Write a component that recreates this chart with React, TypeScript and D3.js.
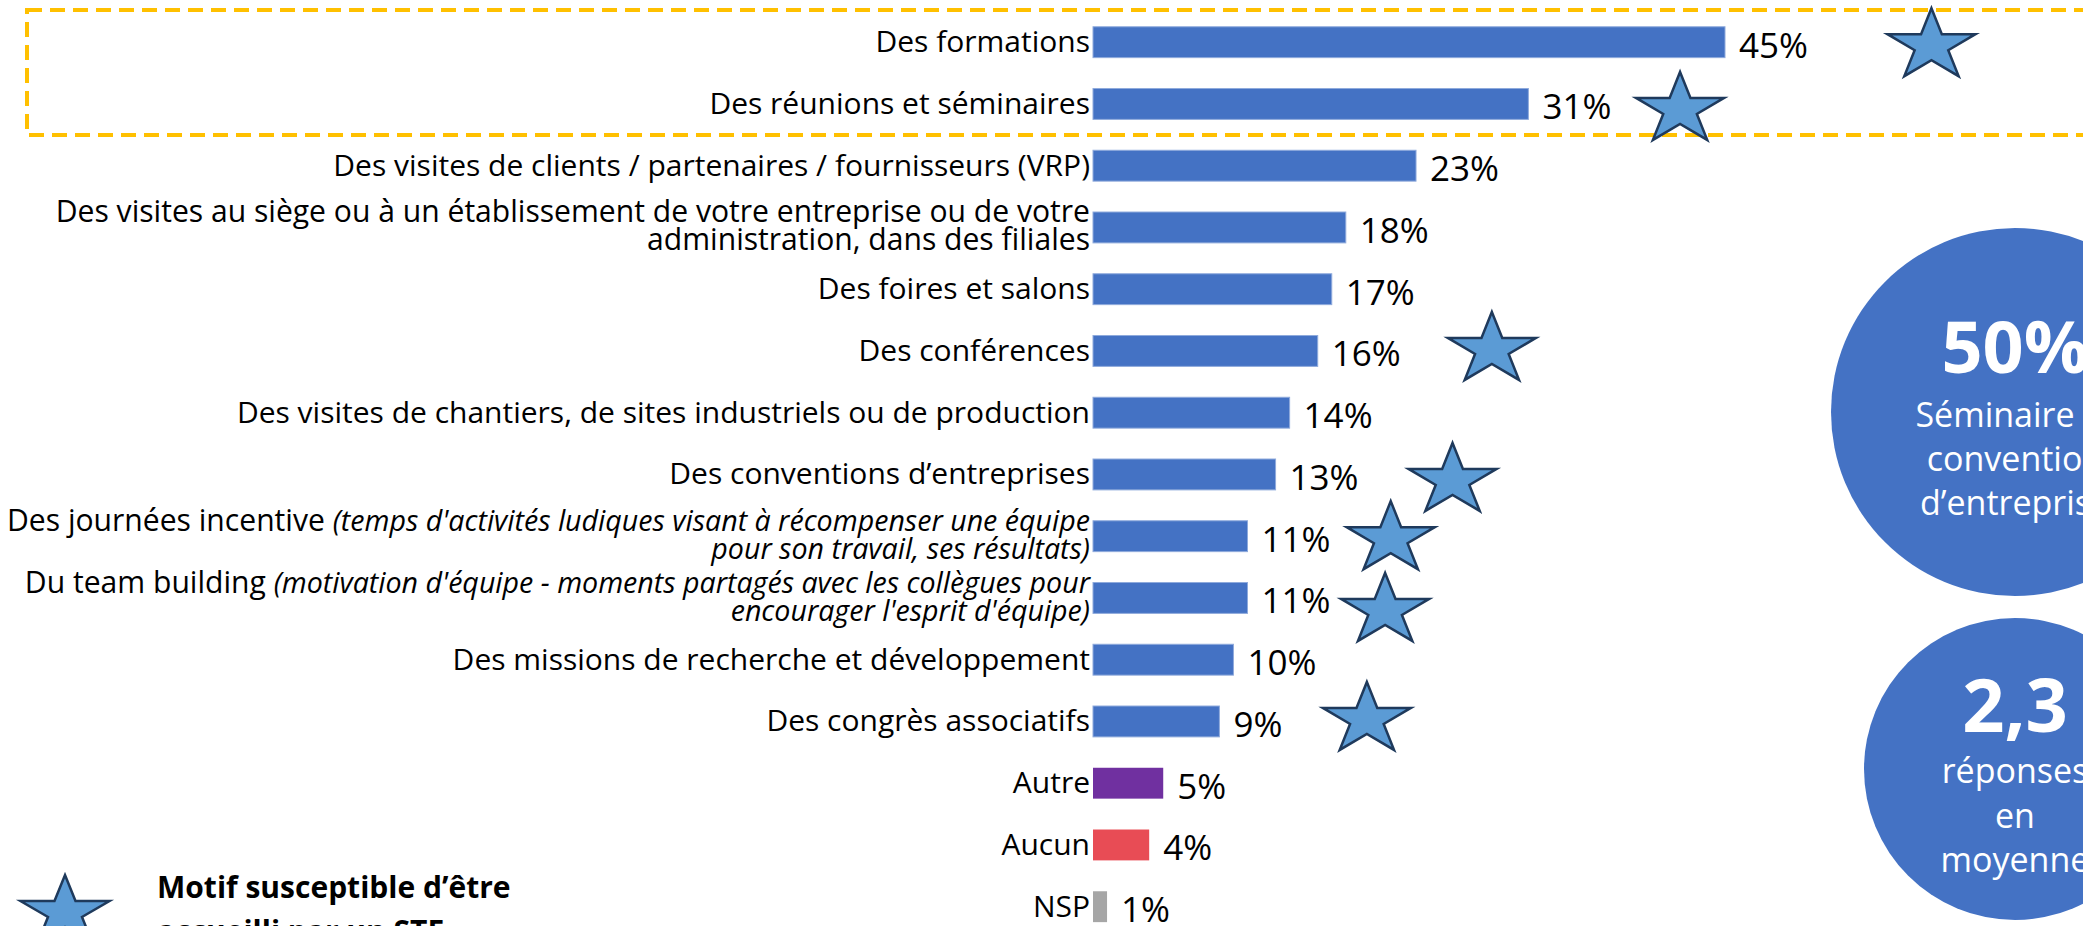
import React, { useEffect } from "react";
import * as d3 from "d3";

// ---------- DATA ----------
const categories = [
  "Des formations",
  "Des réunions et séminaires",
  "Des visites de clients / partenaires / fournisseurs (VRP)",
  "Des visites au siège ou à un établissement de votre entreprise ou de votre administration, dans des filiales",
  "Des foires et salons",
  "Des conférences",
  "Des visites de chantiers, de sites industriels ou de production",
  "Des conventions d’entreprises",
  "Des journées incentive",
  "Du team building",
  "Des missions de recherche et développement",
  "Des congrès associatifs",
  "Autre",
  "Aucun",
  "NSP",
];
const values = [45, 31, 23, 18, 17, 16, 14, 13, 11, 11, 10, 9, 5, 4, 1];

// label text split into lines of [text, italic] segments
const labelLines: Record<string, [string, boolean][][]> = {
  "Des visites au siège ou à un établissement de votre entreprise ou de votre administration, dans des filiales": [
    [["Des visites au siège ou à un établissement de votre entreprise ou de votre", false]],
    [["administration, dans des filiales", false]],
  ],
  "Des journées incentive": [
    [["Des journées incentive ", false], ["(temps d'activités ludiques visant à récompenser une équipe", true]],
    [["pour son travail, ses résultats)", true]],
  ],
  "Du team building": [
    [["Du team building ", false], ["(motivation d'équipe - moments partagés avec les collègues pour", true]],
    [["encourager l'esprit d'équipe)", true]],
  ],
};

// categories marked with a star, with the star's position in value units
const starredCategories = [
  "Des formations",
  "Des réunions et séminaires",
  "Des conférences",
  "Des conventions d’entreprises",
  "Des journées incentive",
  "Du team building",
  "Des congrès associatifs",
];
const starValuePos = [59.7, 41.8, 28.4, 25.6, 21.2, 20.8, 19.5];
const starDy = [0, 2, -5, 2.5, -1, 9, -5.5];

const kpi1Value = "50%";
const kpi1Lines = ["Séminaire et", "convention", "d’entreprise"];
const kpi2Value = "2,3";
const kpi2Lines = ["réponses", "en", "moyenne"];
const legendLines = ["Motif susceptible d’être", "accueilli par un STE"];

// ---------- STYLE ----------
const W = 2083;
const H = 926;
const FONT = "'Open Sans', 'Noto Sans', sans-serif";
const BLUE = "#4472C4";
const specialColors: Record<string, string> = {
  Autre: "#7030A0",
  Aucun: "#E84C55",
  NSP: "#A6A6A6",
};
const STAR_FILL = "#5B9BD5";
const STAR_STROKE = "#1F3A5C";

function starPoints(cx: number, cy: number, w: number, h: number): [number, number][] {
  const sx = w / (2 * Math.sin((72 * Math.PI) / 180));
  const sy = h / (1 + Math.cos((36 * Math.PI) / 180));
  const ccy = cy + sy * (1 - (1 + Math.cos((36 * Math.PI) / 180)) / 2);
  const inner = 0.382;
  const pts: [number, number][] = [];
  for (let k = 0; k < 10; k++) {
    const a = -Math.PI / 2 + (k * Math.PI) / 5;
    const r = k % 2 === 0 ? 1 : inner;
    pts.push([cx + Math.cos(a) * r * sx, ccy + Math.sin(a) * r * sy]);
  }
  return pts;
}

export default function App() {
  useEffect(() => {
    document.body.style.margin = "0";
    document.body.style.overflow = "hidden";
  }, []);

  const x = d3.scaleLinear().domain([0, 45]).range([1093, 1725]);
  const step = 61.75;
  const firstCenter = 42.2;
  const y = d3
    .scaleBand<string>()
    .domain(categories)
    .range([firstCenter - step / 2, firstCenter - step / 2 + step * categories.length])
    .paddingInner(0.5)
    .paddingOuter(0.25);
  const bw = y.bandwidth();
  const center = (c: string) => (y(c) as number) + bw / 2;
  const line = d3.line();
  const labelX = x(0) - 3;

  return (
    <svg width={W} height={H} style={{ position: "absolute", left: 0, top: 0, background: "#fff" }} fontFamily={FONT}>
      {/* highlight box */}
      <rect x={27} y={10} width={2200} height={125} fill="none" stroke="#FFC000" strokeWidth={4} strokeDasharray="15 8" />

      {/* bars */}
      {categories.map((c, i) => {
        const col = specialColors[c] || BLUE;
        return (
          <rect
            key={c}
            x={x(0)}
            y={y(c)}
            width={x(values[i]) - x(0)}
            height={bw}
            fill={col}
            stroke={specialColors[c] ? "none" : "#8FAADC"}
            strokeWidth={1}
          />
        );
      })}

      {/* category labels */}
      {categories.map((c) => {
        const cy = center(c);
        const lines = labelLines[c];
        if (!lines) {
          return (
            <text key={c} x={labelX} y={cy + 10} textAnchor="end" fontSize={30} fill="#000">
              {c}
            </text>
          );
        }
        return (
          <g key={c}>
            {lines.map((segs, li) => (
              <text key={li} x={labelX} y={cy + (li === 0 ? -5 : 23)} textAnchor="end" fill="#000" fontSize={30}>
                {segs.map(([t, it], si) => (
                  <tspan key={si} fontStyle={it ? "italic" : "normal"} fontSize={it ? 28.6 : 30.1}>
                    {t}
                  </tspan>
                ))}
              </text>
            ))}
          </g>
        );
      })}

      {/* value labels */}
      {categories.map((c, i) => (
        <text key={c} x={x(values[i]) + 14} y={center(c) + 15.5} fontSize={35} fill="#000">
          {values[i]}%
        </text>
      ))}

      {/* KPI circles */}
      <circle cx={2015} cy={412} r={184} fill={BLUE} />
      <text x={2015} y={373} textAnchor="middle" fontSize={72} fontWeight={700} fill="#fff">
        {kpi1Value}
      </text>
      {kpi1Lines.map((t, i) => (
        <text key={t} x={2015} y={427 + i * 44} textAnchor="middle" fontSize={34} fill="#fff">
          {t}
        </text>
      ))}
      <circle cx={2015} cy={769} r={151} fill={BLUE} />
      <text x={2015} y={732} textAnchor="middle" fontSize={74} fontWeight={700} fill="#fff">
        {kpi2Value}
      </text>
      {kpi2Lines.map((t, i) => (
        <text key={t} x={2015} y={783 + i * 44.5} textAnchor="middle" fontSize={34} fill="#fff">
          {t}
        </text>
      ))}

      {/* stars */}
      {starredCategories.map((c, i) => (
        <path
          key={c}
          d={line(starPoints(x(starValuePos[i]), center(c) + starDy[i], 88, 68)) + "Z"}
          fill={STAR_FILL}
          stroke={STAR_STROKE}
          strokeWidth={2.5}
          strokeLinejoin="miter"
        />
      ))}

      {/* legend */}
      <path d={line(starPoints(65, 909, 89, 68)) + "Z"} fill={STAR_FILL} stroke={STAR_STROKE} strokeWidth={2.5} />
      {legendLines.map((t, i) => (
        <text key={t} x={157} y={898 + i * 44} fontSize={30} fontWeight={700} fill="#000">
          {t}
        </text>
      ))}
    </svg>
  );
}
